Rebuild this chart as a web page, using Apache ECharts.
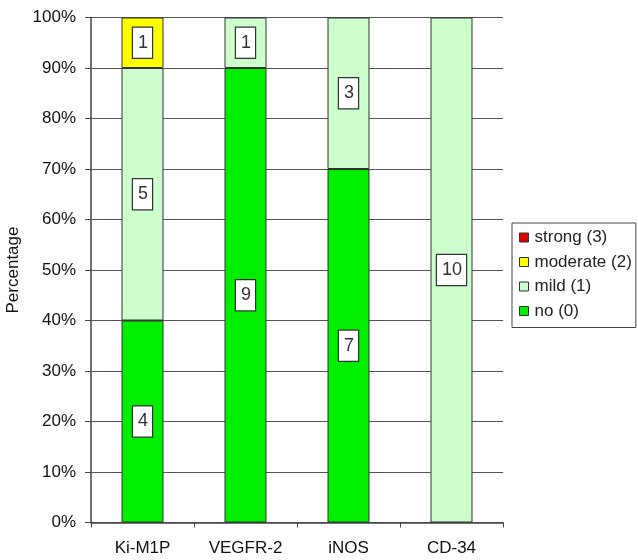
<!DOCTYPE html>
<html>
<head>
<meta charset="utf-8">
<script src="https://cdn.jsdelivr.net/npm/echarts@6/dist/echarts.min.js"></script>
<style>
  html, body { margin: 0; padding: 0; background: #fff; }
  #chart { width: 638px; height: 560px; }
</style>
</head>
<body>
<div id="chart"></div>
<script>
// Staining intensity scores per marker (number of cases)
const markers = ['Ki-M1P', 'VEGFR-2', 'iNOS', 'CD-34'];
const noStain = [4, 9, 7, 0];
const mildStain = [5, 1, 3, 10];
const moderateStain = [1, 0, 0, 0];
const strongStain = [0, 0, 0, 0];
const yTicks = [0, 10, 20, 30, 40, 50, 60, 70, 80, 90, 100];

const totals = markers.map((_, i) => noStain[i] + mildStain[i] + moderateStain[i] + strongStain[i]);

// Convert counts to percentage of cases; zero counts are left empty
function toPercent(counts) {
  return counts.map((c, i) => c === 0 ? null : { value: c / totals[i] * 100, count: c });
}

const FONT = 'Liberation Sans, Arial, sans-serif';

function stackSeries(name, counts, color) {
  return {
    name: name,
    type: 'bar',
    stack: 'score',
    barWidth: 42,
    data: toPercent(counts),
    itemStyle: { color: color, borderColor: '#333', borderWidth: 1 },
    label: {
      show: true,
      position: 'inside',
      formatter: p => p.data ? String(p.data.count) : '',
      fontFamily: FONT,
      fontSize: 18,
      color: '#333',
      backgroundColor: '#fff',
      borderColor: '#333',
      borderWidth: 1.2,
      padding: [6, 4, 6, 5],
      lineHeight: 18
    },
    emphasis: { disabled: true }
  };
}

const chart = echarts.init(document.getElementById('chart'), null, { renderer: 'canvas' });
chart.setOption({
  animation: false,
  textStyle: { fontFamily: FONT },
  grid: { left: 91, top: 17.5, width: 412, height: 505, containLabel: false, outerBoundsMode: 'none' },
  legend: {
    orient: 'vertical',
    left: 512,
    top: 223,
    width: 125,
    padding: [6, 4, 8, 7],
    itemGap: 7.5,
    itemWidth: 9,
    itemHeight: 9,
    borderColor: '#444',
    borderWidth: 1,
    icon: 'rect',
    data: ['strong (3)', 'moderate (2)', 'mild (1)', 'no (0)'],
    itemStyle: { borderColor: '#333', borderWidth: 1 },
    textStyle: { fontFamily: FONT, fontSize: 17, color: '#222', lineHeight: 17, padding: [0, 0, 0, 1] }
  },
  xAxis: {
    type: 'category',
    data: markers,
    axisLine: { lineStyle: { color: '#444', width: 1.5 } },
    axisTick: { show: true, length: 5, lineStyle: { color: '#444' } },
    axisLabel: { fontFamily: FONT, fontSize: 17, color: '#111', margin: 17 }
  },
  yAxis: {
    type: 'value',
    min: 0,
    max: 100,
    interval: 10,
    name: 'Percentage',
    nameLocation: 'middle',
    nameRotate: 90,
    nameGap: 59,
    nameTextStyle: { fontFamily: FONT, fontSize: 17, color: '#111' },
    axisLine: { show: true, lineStyle: { color: '#444', width: 1.5 } },
    axisTick: { show: true, length: 6, lineStyle: { color: '#444' } },
    axisLabel: {
      fontFamily: FONT, fontSize: 17, color: '#111', margin: 15,
      formatter: v => yTicks.includes(v) ? v + '%' : ''
    },
    splitLine: { show: true, lineStyle: { color: '#555', width: 1.2 } }
  },
  series: [
    stackSeries('no (0)', noStain, '#00ee00'),
    stackSeries('mild (1)', mildStain, '#ccffcc'),
    stackSeries('moderate (2)', moderateStain, '#ffff00'),
    stackSeries('strong (3)', strongStain, '#dd0000')
  ]
});
</script>
</body>
</html>
